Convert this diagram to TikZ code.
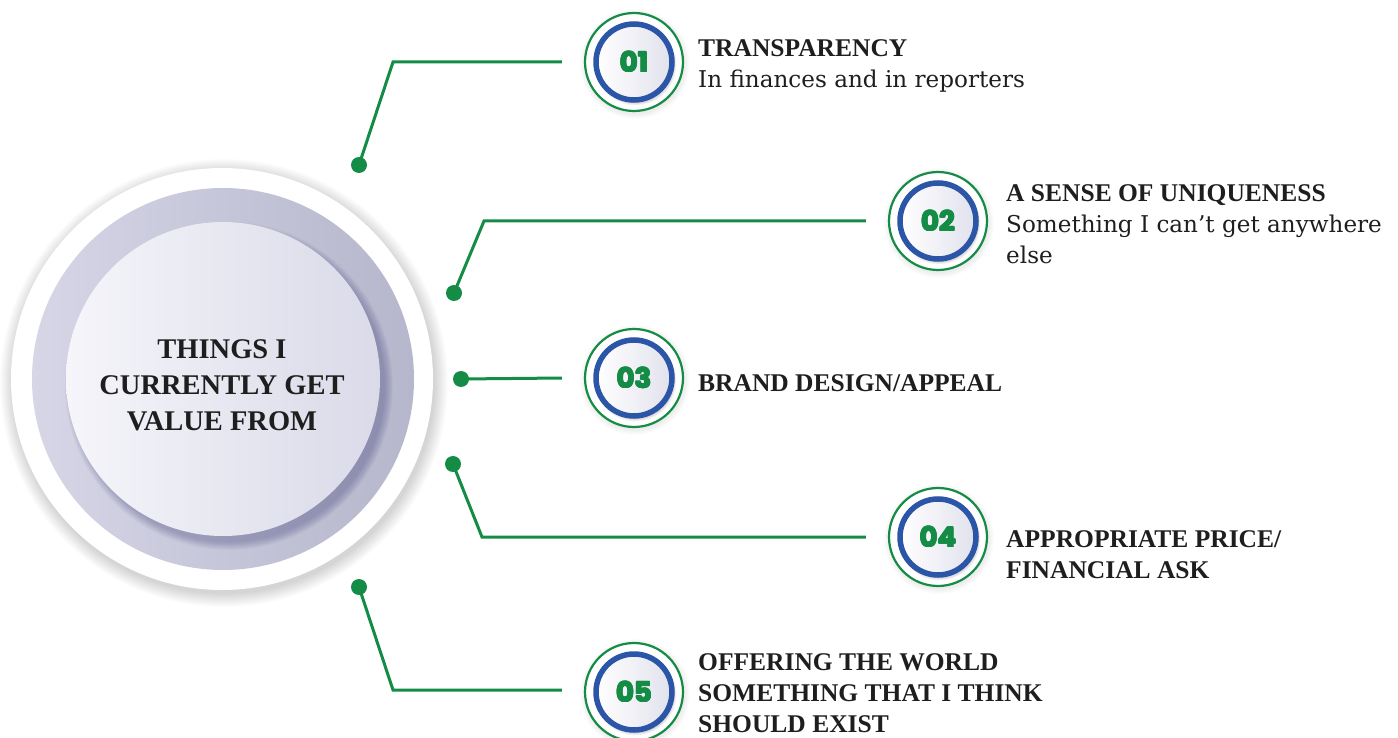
\documentclass[tikz,border=0pt]{standalone}
\usepackage{fontspec}
\setmainfont{Liberation Serif}
\newfontfamily\regfont{DejaVu Serif}
\newfontfamily\numfont{Poppins}
\usetikzlibrary{calc}
\definecolor{lgreen}{HTML}{148C46}
\definecolor{lblue}{HTML}{2B55A6}
\definecolor{ringL}{HTML}{D6D6E7}
\definecolor{ringR}{HTML}{B6B6CC}
\definecolor{innL}{HTML}{F5F5FA}
\definecolor{innR}{HTML}{DADAE9}
\definecolor{txt}{HTML}{1E1E1E}
\newcommand\mybadge[3]{%
  \foreach \k in {1,...,6} \fill[black,opacity=0.012] ($(#2)+(1,2)$) circle (49+\k);
  \node[greenring] (c#1) at (#2) {};
  \foreach \k in {1,...,5} \fill[black,opacity=0.03] ($(#2)+(1.5,2.5)$) circle (38+\k*0.6);
  \shade[left color=white, right color=innR!80] (#2) circle (38);
  \node[bluering] (b#1) at (#2) {};
  \foreach \dx/\dy in {-0.7/0,0.7/0,0/-0.7,0/0.7,-0.5/-0.5,0.5/0.5,-0.5/0.5,0.5/-0.5}
    \node[numtxt] at ($(#2)+(\dx,\dy)$) {#3};
  \node[numtxt] (n#1) at (#2) {#3};
}
\tikzset{
  greenring/.style={circle, draw=lgreen, fill=white, line width=2.2pt, minimum size=98pt, inner sep=0pt},
  bluering/.style={circle, draw=lblue, line width=5.5pt, minimum size=76pt, inner sep=0pt},
  numtxt/.style={font=\numfont\bfseries\fontsize{27.5}{28}\selectfont, text=lgreen, inner sep=0pt},
  dotn/.style={circle, fill=lgreen, minimum size=16pt, inner sep=0pt},
  conn/.style={draw=lgreen, line width=3pt},
  hd/.style={font=\bfseries\fontsize{25.5}{31}\selectfont, text=txt, inner sep=0pt, anchor=base west},
  rg/.style={font=\regfont\fontsize{23.1}{31}\selectfont, text=txt, inner sep=0pt, anchor=base west},
  ctr/.style={font=\bfseries\fontsize{28.5}{36}\selectfont, text=txt, inner sep=0pt, anchor=base},
}
\begin{document}
\begin{tikzpicture}[x=1pt,y=-1pt]
\useasboundingbox (0,0) rectangle (1398,738);
\fill[white] (0,0) rectangle (1398,738);

% central disk
\foreach \k in {1,...,14} \fill[black,opacity=0.011] (224,383) circle (210+\k);
\fill[white] (222,379) circle (211);
\shade[left color=ringL, right color=ringR] (223,379) circle (191);
\foreach \k in {1,...,10} \fill[black!70!blue,opacity=0.022] (229,386) circle (155+\k*0.9);
\shade[left color=innL, right color=innR] (223,379) circle (157);
\node[ctr] (m1) at (222,358) {THINGS I};
\node[ctr] (m2) at (222,394) {CURRENTLY GET};
\node[ctr] (m3) at (222,430) {VALUE FROM};

% badges
\mybadge{1}{634,62}{01}
\mybadge{2}{938,221}{02}
\mybadge{3}{634,378}{03}
\mybadge{4}{938,537}{04}
\mybadge{5}{634,692}{05}

% dots and corners
\node[dotn] (d1) at (359,165) {};
\node[dotn] (d2) at (454,293) {};
\node[dotn] (d3) at (461,379) {};
\node[dotn] (d4) at (453,464) {};
\node[dotn] (d5) at (359,587) {};
\coordinate (k1) at (393,62);
\coordinate (k2) at (484,221);
\coordinate (k4) at (482,537);
\coordinate (k5) at (393,690);
\coordinate (e1) at ($(c1.west)+(-22,0)$);
\coordinate (e2) at ($(c2.west)+(-22,0)$);
\coordinate (e3) at ($(c3.west)+(-22,0)$);
\coordinate (e4) at ($(c4.west)+(-22,0)$);
\coordinate (e5) at ($(c5.west)+(-22,-2)$);
\draw[conn] (d1.center) -- (k1) -- (e1);
\draw[conn] (d2.center) -- (k2) -- (e2);
\draw[conn] (d3.center) -- (e3);
\draw[conn] (d4.center) -- (k4) -- (e4);
\draw[conn] (d5.center) -- (k5) -- (e5);

% labels
\node[hd] (t1a) at (698,57) {TRANSPARENCY};
\node[rg] (t1b) at (698,88) {In finances and in reporters};
\node[hd] (t2a) at (1006,202) {A SENSE OF UNIQUENESS};
\node[rg] (t2b) at (1006,233) {Something I can’t get anywhere};
\node[rg] (t2c) at (1006,264) {else};
\node[hd] (t3a) at (698,391) {BRAND DESIGN/APPEAL};
\node[hd] (t4a) at (1006,547) {APPROPRIATE PRICE/};
\node[hd] (t4b) at (1006,578) {FINANCIAL ASK};
\node[hd] (t5a) at (698,670) {OFFERING THE WORLD};
\node[hd] (t5b) at (698,701) {SOMETHING THAT I THINK};
\node[hd] (t5c) at (698,732) {SHOULD EXIST};
\end{tikzpicture}
\end{document}
